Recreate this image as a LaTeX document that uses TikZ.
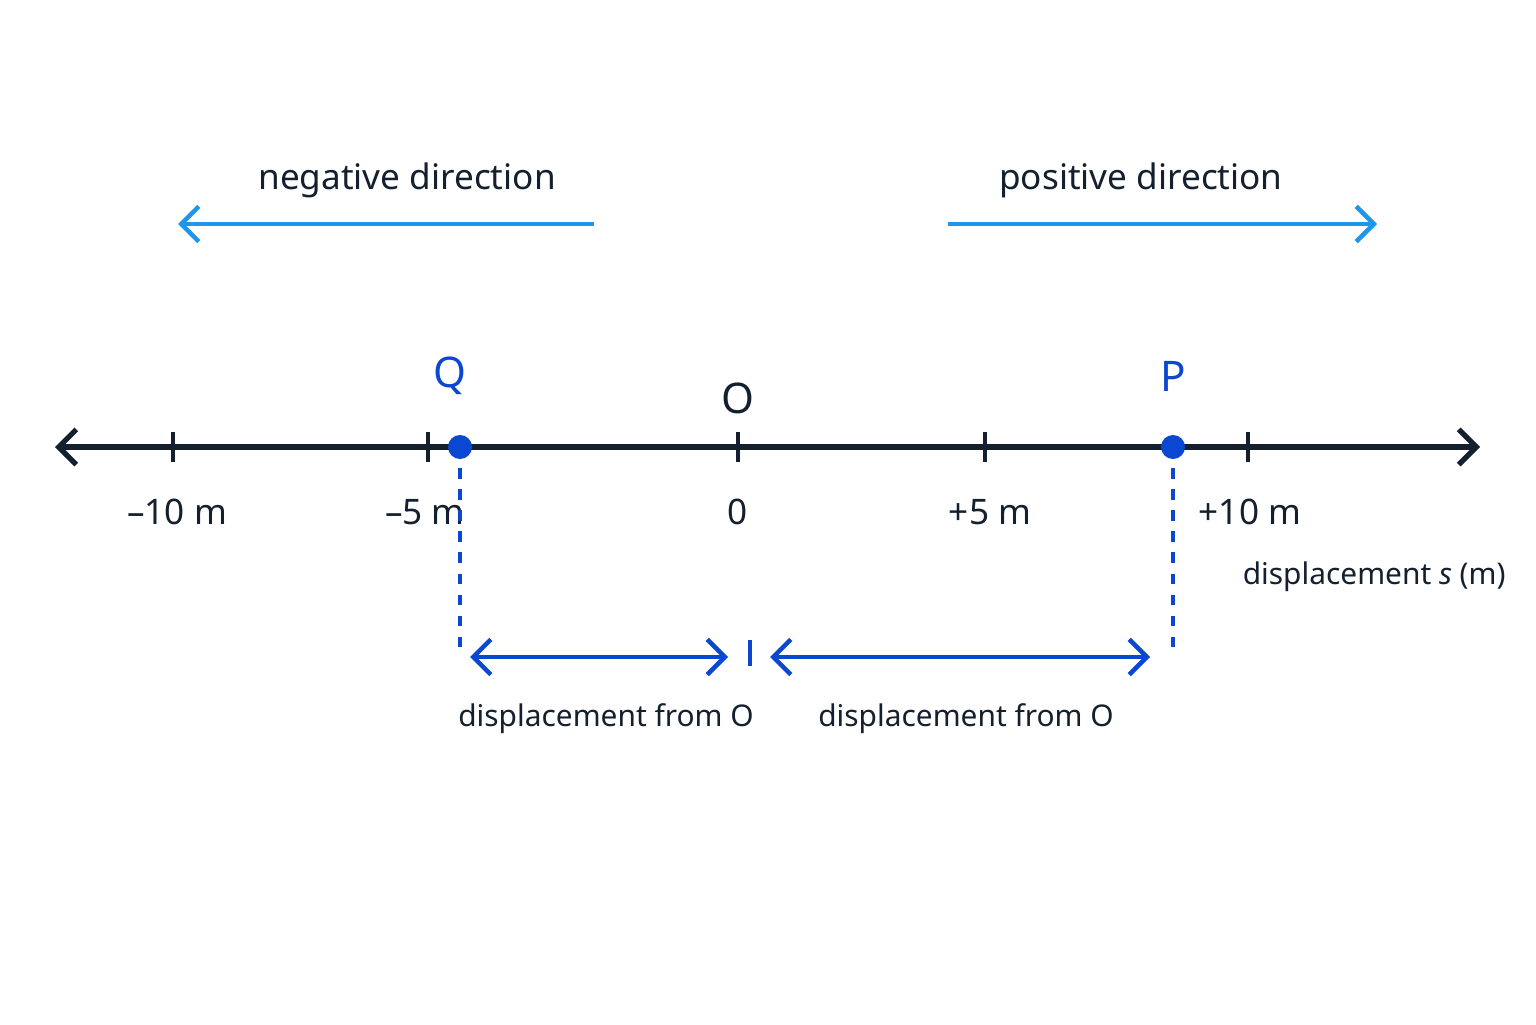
\documentclass[tikz,border=0pt]{standalone}
\usepackage{fontspec}
\setmainfont{Noto Sans}
\usetikzlibrary{arrows.meta}
\definecolor{axiscol}{HTML}{15202E}
\definecolor{dircol}{HTML}{1E96EA}
\definecolor{ptcol}{HTML}{0B47D2}
\tikzset{
  lbl/.style={font=\fontsize{10}{12}\selectfont, text=axiscol},
  small lbl/.style={font=\fontsize{8.5}{10}\selectfont, text=axiscol},
  tick/.style={axiscol, line width=1.3pt},
  dim/.style={ptcol, line width=1.3pt, {Straight Barb[length=5pt,width=10pt]}-{Straight Barb[length=5pt,width=10pt]}},
}
\begin{document}
\begin{tikzpicture}[x=1cm,y=1cm]
  \useasboundingbox[fill=white] (0,0) rectangle (15.36,10.24);
  % axis
  \coordinate (L) at (0.55,5.77);
  \coordinate (R) at (14.8,5.77);
  \draw[axiscol, line width=1.5pt, {Straight Barb[length=5pt,width=10pt]}-{Straight Barb[length=5pt,width=10pt]}] (L) -- (R);
  \foreach \x/\t in {1.77/{–10 m},4.25/{–5 m},7.38/0,9.9/+5 m,12.5/+10 m} {
      \node[lbl] at (\x,5.12) {\t};
    }
  \foreach \x in {1.73,4.28,7.38,9.85,12.48} {
      \draw[tick] (\x,5.77) ++(0,0.15) -- ++(0,-0.3);
    }
  \node[lbl, font=\fontsize{12}{14}\selectfont] (O) at (7.38,6.26) {O};
  \node[small lbl, anchor=east] (axlbl) at (15.18,4.47) {displacement \textit{s} (m)};

  % points
  \begin{scope}[radius=0.12]
      \fill[ptcol] (4.6,5.77) coordinate (Q) circle;
      \fill[ptcol] (11.73,5.77) coordinate (P) circle;
  \end{scope}
  \node[ptcol, font=\fontsize{12}{14}\selectfont] at (4.5,6.48) {Q};
  \node[ptcol, font=\fontsize{12}{14}\selectfont] at (11.73,6.48) {P};

  % directions
  \coordinate (n1) at (5.94,8.0);
  \coordinate (n2) at (1.78,8.0);
  \coordinate (p1) at (9.48,8.0);
  \coordinate (p2) at (13.77,8.0);
  \draw[dircol, line width=1.3pt, -{Straight Barb[length=5pt,width=10pt]}] (n1) -- (n2);
  \draw[dircol, line width=1.3pt, -{Straight Barb[length=5pt,width=10pt]}] (p1) -- (p2);
  \node[lbl] at (4.07,8.44) {negative direction};
  \node[lbl] at (11.41,8.44) {positive direction};

  % displacements
  \coordinate (Qd) at (4.6,3.67);
  \coordinate (Pd) at (11.73,3.67);
  \draw[ptcol, line width=1.1pt, dashed] (Q) -- (Qd);
  \draw[ptcol, line width=1.1pt, dashed] (P) -- (Pd);
  \coordinate (d1) at (4.7,3.67);
  \coordinate (d2) at (7.28,3.67);
  \coordinate (d3) at (7.7,3.67);
  \coordinate (d4) at (11.5,3.67);
  \draw[dim] (d1) -- (d2);
  \draw[dim] (d3) -- (d4);
  \draw[ptcol, line width=1.2pt] (7.5,3.58) -- (7.5,3.84);
  \node[small lbl] at (6.06,3.05) {displacement from O};
  \node[small lbl] at (9.66,3.05) {displacement from O};
\end{tikzpicture}
\end{document}
